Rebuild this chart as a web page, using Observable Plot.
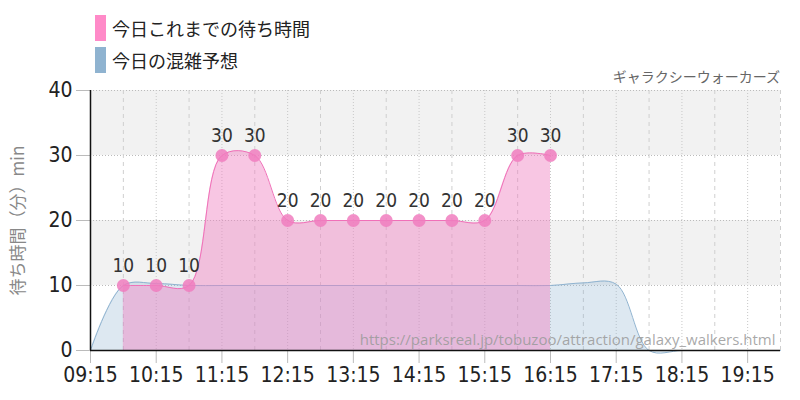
<!DOCTYPE html>
<html><head><meta charset="utf-8">
<script src="https://cdn.jsdelivr.net/npm/d3@7"></script>
<script src="https://cdn.jsdelivr.net/npm/@observablehq/plot@0.6"></script>
<style>
body{margin:0;background:#fff;font-family:"Noto Sans CJK JP",sans-serif;}
#wrap{position:relative;width:800px;height:400px;overflow:hidden;}
#legend{position:absolute;left:95px;top:12px;}
.item{display:flex;align-items:center;height:32px;font-size:18px;color:#222;}
.sw{width:11px;height:26px;margin-right:6px;}
#name{position:absolute;right:20px;top:66px;font-size:14px;color:#666;}
#chart{position:absolute;left:0;top:70px;}
#chart svg{font-stretch:condensed;}
</style></head>
<body>
<div id="wrap">
  <div id="legend"></div>
  <div id="name"></div>
  <div id="chart"></div>
</div>
<script>
// ---- data ----
const attractionName = "ギャラクシーウォーカーズ";
const seriesNames = ["今日これまでの待ち時間", "今日の混雑予想"];
const seriesColors = ["#ff8ac8", "#8fb3d0"];
const yLabel = "待ち時間（分）min";
const sourceUrl = "https://parksreal.jp/tobuzoo/attraction/galaxy_walkers.html";

const actualTimes = ["09:45","10:15","10:45","11:15","11:45","12:15","12:45","13:15","13:45","14:15","14:45","15:15","15:45","16:15"];
const actualWaits = [10,10,10,30,30,20,20,20,20,20,20,20,30,30];

const forecastTimes = ["09:15","09:45","10:15","10:45","11:15","11:45","12:15","12:45","13:15","13:45","14:15","14:45","15:15","15:45","16:15","16:45","17:15","17:45","18:15","18:45","19:15","19:45"];
const forecastWaits = [0,10,10.3,10,10,10,10,10,10,10,10,10,10,10,10,10.4,10.2,0,0,0,0,0];

const hourTicks = ["09:15","10:15","11:15","12:15","13:15","14:15","15:15","16:15","17:15","18:15","19:15"];
const halfTicks = ["09:45","10:45","11:45","12:45","13:45","14:45","15:45","16:45","17:45","18:45","19:45"];
const yTicks = [0,10,20,30,40];
const bandLow = [10,30];
const bandHigh = [20,40];
const xStart = "09:15", xEnd = "19:45";

// ---- helpers ----
const toH = s => { const [h,m] = s.split(":").map(Number); return h + m/60; };
const fmt = h => { const H = Math.floor(h + 1e-9), M = Math.round((h - H)*60); return String(H).padStart(2,"0") + ":" + String(M).padStart(2,"0"); };

const actual = actualTimes.map((t,i) => ({x: toH(t), y: actualWaits[i]}));
const forecast = forecastTimes.map((t,i) => ({x: toH(t), y: forecastWaits[i]}));
const bands = bandLow.map((v,i) => ({y1: v, y2: bandHigh[i]}));

// legend
const lg = document.getElementById("legend");
seriesNames.forEach((n,i) => {
  const d = document.createElement("div"); d.className = "item";
  const s = document.createElement("div"); s.className = "sw"; s.style.background = seriesColors[i];
  const t = document.createElement("span"); t.textContent = n;
  d.append(s, t); lg.append(d);
});
document.getElementById("name").textContent = attractionName;

const numFont = "'DejaVu Sans Condensed','DejaVu Sans',sans-serif";
const jpFont = "'Noto Sans CJK JP',sans-serif";

const chart = Plot.plot({
  width: 800, height: 330,
  marginTop: 20, marginBottom: 50, marginLeft: 90, marginRight: 20,
  style: {fontFamily: numFont, fontSize: "21px", background: "transparent", color: "#222"},
  x: {domain: [toH(xStart), toH(xEnd)]},
  y: {domain: [0, 40]},
  marks: [
    Plot.rect(bands, {y1: "y1", y2: "y2", fill: "#f2f2f2"}),
    Plot.ruleY(yTicks.slice(1), {stroke: "#bbb", strokeDasharray: "1,2"}),
    Plot.ruleX(hourTicks.map(toH), {stroke: "#c8c8c8", strokeDasharray: "1,2"}),
    Plot.ruleX(halfTicks.map(toH), {stroke: "#cfcfcf", strokeDasharray: "4,4"}),
    Plot.areaY(forecast, {x: "x", y: "y", curve: "catmull-rom", fill: seriesColors[1], fillOpacity: 0.3}),
    Plot.lineY(forecast, {x: "x", y: "y", curve: "catmull-rom", stroke: seriesColors[1], strokeWidth: 1}),
    Plot.areaY(actual, {x: "x", y: "y", curve: "catmull-rom", fill: "#f080c0", fillOpacity: 0.45}),
    Plot.lineY(actual, {x: "x", y: "y", curve: "catmull-rom", stroke: "#f070b8", strokeWidth: 1}),
    Plot.dot(actual, {x: "x", y: "y", r: 6.5, fill: "#f07cbe", fillOpacity: 0.85}),
    Plot.text(actual, {x: "x", y: "y", text: d => String(d.y), dy: -20, fill: "#333", fontSize: 19}),
    Plot.text([sourceUrl], {frameAnchor: "bottom-right", textAnchor: "end", lineAnchor: "bottom", dx: -5, dy: -6, fill: "#999", fillOpacity: 0.85, fontSize: 15, fontFamily: "'Open Sans',sans-serif"}),
    Plot.text([yLabel], {frameAnchor: "left", textAnchor: "middle", rotate: -90, dx: -72, fill: "#888", fontSize: 17, fontFamily: jpFont}),
    Plot.axisX({ticks: hourTicks.map(toH), tickFormat: fmt, tickSize: 13, tickPadding: 4, stroke: "#bbb", fill: "#222", fontSize: 21, label: null}),
    Plot.axisY({ticks: yTicks, tickSize: 14, tickPadding: 4, stroke: "#bbb", fill: "#222", fontSize: 21, label: null}),
    Plot.ruleY([0], {stroke: "#111", strokeWidth: 1.5}),
    Plot.ruleX([toH(xStart)], {stroke: "#111", strokeWidth: 1.5})
  ]
});
chart.querySelectorAll("text").forEach(t => {
  if (t.textContent === sourceUrl) t.style.fontStretch = "normal";
});
document.getElementById("chart").append(chart);
</script>
</body></html>
